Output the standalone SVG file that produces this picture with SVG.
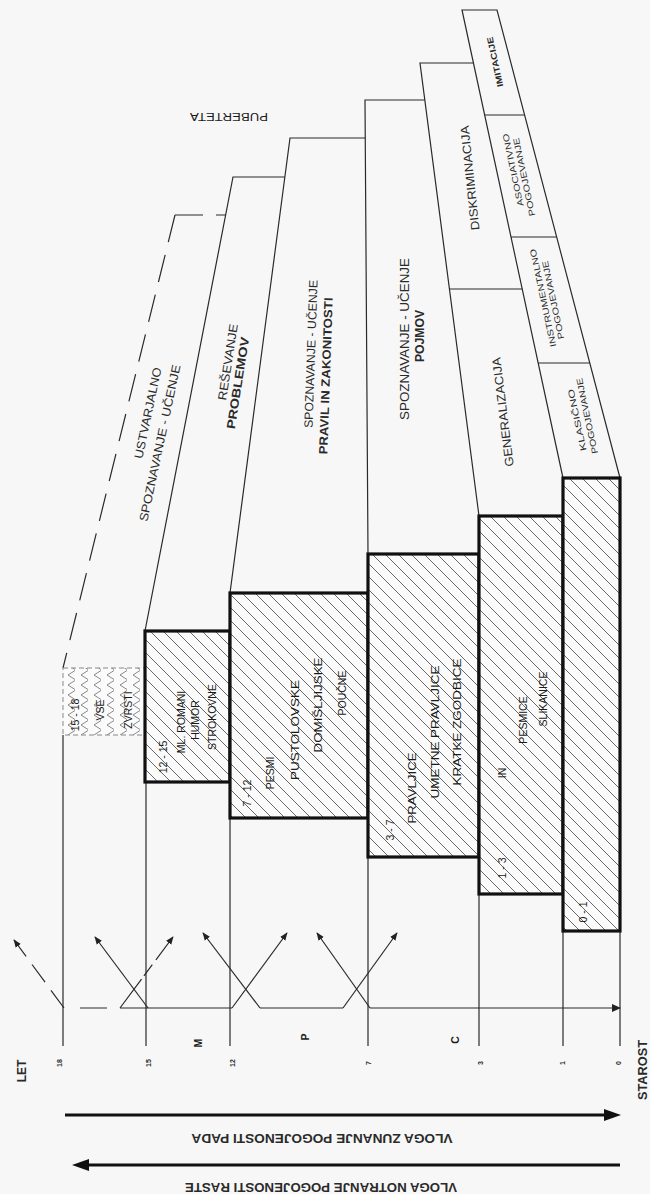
<svg xmlns="http://www.w3.org/2000/svg" width="650" height="1194" viewBox="0 0 650 1194">
<defs>
<style>
.t{font-family:"Liberation Sans",Arial,sans-serif;fill:#2a2a2a;text-anchor:middle;dominant-baseline:central;font-size:12px}
.s{font-size:10.5px;fill:#1a1a1a}
.xs{font-size:8.5px}
.n{font-size:7px}
.b{font-weight:bold}
.ln{fill:none;stroke:#2a2a2a;stroke-width:1.2}
.dl{fill:none;stroke:#2a2a2a;stroke-width:1.2;stroke-dasharray:28 13}
.box{stroke:#111;stroke-width:3.2;fill:url(#hatch)}
.ar{fill:none;stroke:#2a2a2a;stroke-width:1.2;marker-end:url(#ah)}
.big{stroke:#111;stroke-width:3.2}
</style>
<pattern id="hatch" patternUnits="userSpaceOnUse" width="13" height="13">
<rect width="13" height="13" fill="#fbfbfb"/>
<path d="M0,0L13,13M-2,11L2,15M11,-2L15,2" stroke="#444" stroke-width="0.8"/>
</pattern>
<pattern id="chev" patternUnits="userSpaceOnUse" width="13" height="10">
<rect width="13" height="10" fill="#fbfbfb"/>
<path d="M10,0.5L3,5L10,9.5" fill="none" stroke="#888" stroke-width="1"/>
</pattern>
<marker id="ah" viewBox="0 0 10 10" refX="9" refY="5" markerWidth="8" markerHeight="8" orient="auto" markerUnits="userSpaceOnUse">
<path d="M0,1L10,5L0,9z" fill="#222"/>
</marker>
</defs>
<rect width="650" height="1194" fill="#f7f7f7"/>

<g id="bands">
<path class="ln" d="M563,478L462,10L497,10L620,478"/>
<path class="ln" d="M479,516L420,63L473.4,63"/>
<path class="ln" d="M368,554L365,100L424.8,100"/>
<path class="ln" d="M230,593L290,138L365.3,138"/>
<path class="ln" d="M145,631L233,177L284.9,177"/>
<path class="dl" d="M175,215L226,215"/>
<path class="dl" d="M175,215L63,668"/>
<line class="ln" x1="484.7" y1="115" x2="524.6" y2="115"/>
<line class="ln" x1="511" y1="237" x2="556.7" y2="237"/>
<line class="ln" x1="538.2" y1="363" x2="589.8" y2="363"/>
<line class="ln" x1="449.4" y1="289" x2="522.2" y2="289"/>
</g>

<g id="band-texts">
<text class="t s" transform="translate(229,117) rotate(180)" textLength="78" lengthAdjust="spacingAndGlyphs">PUBERTETA</text>
<text class="t" transform="translate(148,413) rotate(-78)" textLength="93" lengthAdjust="spacingAndGlyphs">USTVARJALNO</text>
<text class="t" transform="translate(160,443) rotate(-78)" textLength="160" lengthAdjust="spacingAndGlyphs">SPOZNAVANJE - UČENJE</text>
<text class="t" transform="translate(228,362) rotate(-81)" textLength="77" lengthAdjust="spacingAndGlyphs">REŠEVANJE</text>
<text class="t b" transform="translate(238,383) rotate(-81)" textLength="93" lengthAdjust="spacingAndGlyphs">PROBLEMOV</text>
<text class="t" transform="translate(311,354) rotate(-88)" textLength="148" lengthAdjust="spacingAndGlyphs">SPOZNAVANJE - UČENJE</text>
<text class="t b" transform="translate(326,376) rotate(-88)" textLength="157" lengthAdjust="spacingAndGlyphs">PRAVIL IN ZAKONITOSTI</text>
<text class="t" transform="translate(405,339) rotate(-90)" textLength="162" lengthAdjust="spacingAndGlyphs">SPOZNAVANJE - UČENJE</text>
<text class="t b" transform="translate(420,336) rotate(-90)" textLength="52" lengthAdjust="spacingAndGlyphs">POJMOV</text>
<text class="t" transform="translate(470,178) rotate(-96)" textLength="105" lengthAdjust="spacingAndGlyphs">DISKRIMINACIJA</text>
<text class="t" transform="translate(503,412) rotate(-97)" textLength="110" lengthAdjust="spacingAndGlyphs">GENERALIZACIJA</text>
<text class="t xs b" transform="translate(495,62) rotate(-102)" textLength="51" lengthAdjust="spacingAndGlyphs">IMITACIJE</text>
<text class="t xs" transform="translate(513,170) rotate(-102)" textLength="74" lengthAdjust="spacingAndGlyphs">ASOCIATIVNO</text>
<text class="t xs" transform="translate(524,177) rotate(-102)" textLength="80" lengthAdjust="spacingAndGlyphs">POGOJEVANJE</text>
<text class="t xs" transform="translate(543,298) rotate(-102)" textLength="100" lengthAdjust="spacingAndGlyphs">INSTRUMENTALNO</text>
<text class="t xs" transform="translate(553,300) rotate(-102)" textLength="80" lengthAdjust="spacingAndGlyphs">POGOJEVANJE</text>
<text class="t xs" transform="translate(577,420) rotate(-102)" textLength="63" lengthAdjust="spacingAndGlyphs">KLASIČNO</text>
<text class="t xs" transform="translate(587,416) rotate(-102)" textLength="77" lengthAdjust="spacingAndGlyphs">POGOJEVANJE</text>
</g>

<g id="age-lines">
<path class="ln" d="M63,735V1046M146,782V1046M230,818V1046M368,857V1046M479,894V1046M563,931V1046M620,931V1046"/>
</g>

<g id="box-15-18">
<rect x="63" y="668" width="82" height="67" fill="url(#chev)" stroke="#888" stroke-width="1" stroke-dasharray="5 3"/>
<text class="t s" transform="translate(75,715) rotate(-90)">15 - 18</text>
<text class="t s" transform="translate(100,710) rotate(-90)">VSE</text>
<text class="t s" transform="translate(128,710) rotate(-90)">ZVRSTI</text>
</g>

<g id="box-12-15">
<rect class="box" x="145" y="631" width="85" height="151"/>
<text class="t s" transform="translate(163,757) rotate(-90)">12 - 15</text>
<text class="t s" transform="translate(181,722) rotate(-90)">ML. ROMANI</text>
<text class="t s" transform="translate(195,720) rotate(-90)">HUMOR</text>
<text class="t s" transform="translate(212,717) rotate(-90)">STROKOVNE</text>
</g>

<g id="box-7-12">
<rect class="box" x="230" y="593" width="138" height="225"/>
<text class="t s" transform="translate(247,793) rotate(-90)">7 - 12</text>
<text class="t s" transform="translate(270,773) rotate(-90)">PESMI</text>
<text class="t s" transform="translate(295,730) rotate(-90)" textLength="100" lengthAdjust="spacingAndGlyphs">PUSTOLOVSKE</text>
<text class="t s" transform="translate(318,705) rotate(-90)" textLength="95" lengthAdjust="spacingAndGlyphs">DOMIŠLJIJSKE</text>
<text class="t s" transform="translate(342,693) rotate(-90)">POUČNE</text>
</g>

<g id="box-3-7">
<rect class="box" x="368" y="554" width="111" height="303"/>
<text class="t s" transform="translate(390,830) rotate(-90)">3 - 7</text>
<text class="t s" transform="translate(412,788) rotate(-90)" textLength="71" lengthAdjust="spacingAndGlyphs">PRAVLJICE</text>
<text class="t s" transform="translate(435,732) rotate(-90)" textLength="133" lengthAdjust="spacingAndGlyphs">UMETNE PRAVLJICE</text>
<text class="t s" transform="translate(457,722) rotate(-90)" textLength="127" lengthAdjust="spacingAndGlyphs">KRATKE ZGODBICE</text>
</g>

<g id="box-1-3">
<rect class="box" x="479" y="516" width="84" height="378"/>
<text class="t s" transform="translate(502,868) rotate(-90)">1 - 3</text>
<text class="t s" transform="translate(502,773) rotate(-90)">IN</text>
<text class="t s" transform="translate(523,720) rotate(-90)">PESMICE</text>
<text class="t s" transform="translate(543,699) rotate(-90)">SLIKANICE</text>
</g>

<g id="box-0-1">
<rect class="box" x="563" y="478" width="57" height="453"/>
<text class="t s" transform="translate(583,912) rotate(-90)">0 - 1</text>
</g>

<g id="connectors">
<path class="ln" d="M80,1008H107M120,1008H232M260,1008H343M370,1008H613"/>
<path d="M621,1008L612,1004L612,1012z" fill="#222"/>
<path class="ar" d="M64,1008L14,940" stroke-dasharray="22 10"/>
<path class="ar" d="M148,1008L95,937"/>
<path class="ar" d="M120,1008L173,937" stroke-dasharray="36 4 14 6"/>
<path class="ar" d="M232,1008L287,933"/>
<path class="ar" d="M260,1008L203,933"/>
<path class="ar" d="M370,1008L317,933"/>
<path class="ar" d="M343,1008L397,933"/>
<line class="big" x1="65" y1="1115" x2="606" y2="1115"/>
<path d="M621,1115L604,1109L604,1121z" fill="#111"/>
<line class="big" x1="88" y1="1165" x2="620" y2="1165"/>
<path d="M72,1165L89,1159L89,1171z" fill="#111"/>
</g>

<g id="axis-labels">
<text class="t b" transform="translate(22,1071) rotate(-90)">LET</text>
<text class="t b" transform="translate(643,1070) rotate(-90)" textLength="60" lengthAdjust="spacingAndGlyphs">STAROST</text>
<text class="t n b" transform="translate(59,1063) rotate(-90)">18</text>
<text class="t n b" transform="translate(148,1063) rotate(-90)">15</text>
<text class="t n b" transform="translate(232,1063) rotate(-90)">12</text>
<text class="t n b" transform="translate(368,1063) rotate(-90)">7</text>
<text class="t n b" transform="translate(480,1063) rotate(-90)">3</text>
<text class="t n b" transform="translate(562,1063) rotate(-90)">1</text>
<text class="t n b" transform="translate(618,1063) rotate(-90)">0</text>
<text class="t s b" transform="translate(198,1043) rotate(-90)">M</text>
<text class="t s b" transform="translate(305,1037) rotate(-90)">P</text>
<text class="t s b" transform="translate(455,1040) rotate(-90)">C</text>
<text class="t b" transform="translate(322,1138) rotate(180)" textLength="261" lengthAdjust="spacingAndGlyphs">VLOGA ZUNANJE POGOJENOSTI PADA</text>
<text class="t b" transform="translate(321,1187) rotate(180)" textLength="272" lengthAdjust="spacingAndGlyphs">VLOGA NOTRANJE POGOJENOSTI RASTE</text>
</g>
</svg>
